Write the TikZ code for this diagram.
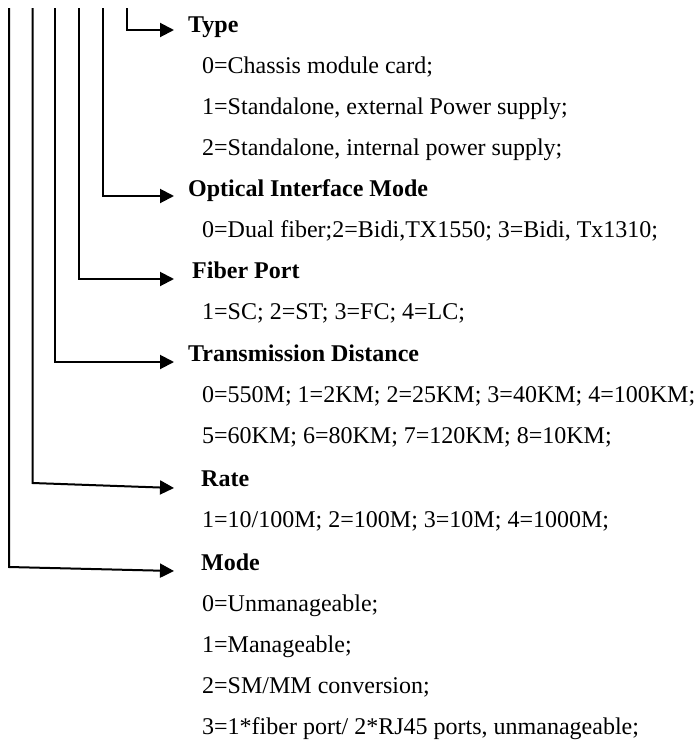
\documentclass[tikz,border=0pt]{standalone}
\usepackage{fontspec}
\setmainfont{Liberation Serif}
\usetikzlibrary{arrows.meta}
\begin{document}
\begin{tikzpicture}[x=1pt,y=-1pt,
  conn/.style={line width=2pt, -{Triangle[length=14pt,width=14pt]}},
  head/.style={anchor=base west, inner sep=0pt, font=\fontsize{24}{24}\selectfont\bfseries},
  val/.style={anchor=base west, inner sep=0pt, font=\fontsize{24}{24}\selectfont}]
\useasboundingbox (0,0) rectangle (700,742);

% line starts
\coordinate (s1) at (127,8);
\coordinate (s2) at (103,8);
\coordinate (s3) at (79,8);
\coordinate (s4) at (55,8);
\coordinate (s5) at (32.5,8);
\coordinate (s6) at (9,8);
% corners
\coordinate (c1) at (127,30);
\coordinate (c2) at (103,196);
\coordinate (c3) at (79,279);
\coordinate (c4) at (55,362);
\coordinate (c5) at (32.5,483);
\coordinate (c6) at (9,567);
% tips
\coordinate (t1) at (174,30);
\coordinate (t2) at (174,196);
\coordinate (t3) at (174,279);
\coordinate (t4) at (174,362);
\coordinate (t5) at (174,488);
\coordinate (t6) at (174,571);

\draw[conn] (s1) -- (c1) -- (t1);
\draw[conn] (s2) -- (c2) -- (t2);
\draw[conn] (s3) -- (c3) -- (t3);
\draw[conn] (s4) -- (c4) -- (t4);
\draw[conn] (s5) -- (c5) -- (t5);
\draw[conn] (s6) -- (c6) -- (t6);

% Type
\node[head] (h1) at (188,32) {Type};
\node[val] (v11) at (202,73) {0=Chassis module card;};
\node[val] (v12) at (202,114) {1=Standalone, external Power supply;};
\node[val] (v13) at (202,155) {2=Standalone, internal power supply;};
% Optical
\node[head] (h2) at (188,196) {Optical Interface Mode};
\node[val] (v21) at (202,237) {0=Dual fiber;2=Bidi,TX1550; 3=Bidi, Tx1310;};
% Fiber port
\node[head] (h3) at (192,278) {Fiber Port};
\node[val] (v31) at (202,319) {1=SC; 2=ST; 3=FC; 4=LC;};
% Transmission
\node[head] (h4) at (188,361) {Transmission Distance};
\node[val] (v41) at (202,402) {0=550M; 1=2KM; 2=25KM; 3=40KM; 4=100KM;};
\node[val] (v42) at (202,443) {5=60KM; 6=80KM; 7=120KM; 8=10KM;};
% Rate
\node[head] (h5) at (201,486) {Rate};
\node[val] (v51) at (202,527) {1=10/100M; 2=100M; 3=10M; 4=1000M;};
% Mode
\node[head] (h6) at (201,570) {Mode};
\node[val] (v61) at (202,611) {0=Unmanageable;};
\node[val] (v62) at (202,652) {1=Manageable;};
\node[val] (v63) at (202,693) {2=SM/MM conversion;};
\node[val] (v64) at (202,734) {3=1*fiber port/ 2*RJ45 ports, unmanageable;};
\end{tikzpicture}
\end{document}
